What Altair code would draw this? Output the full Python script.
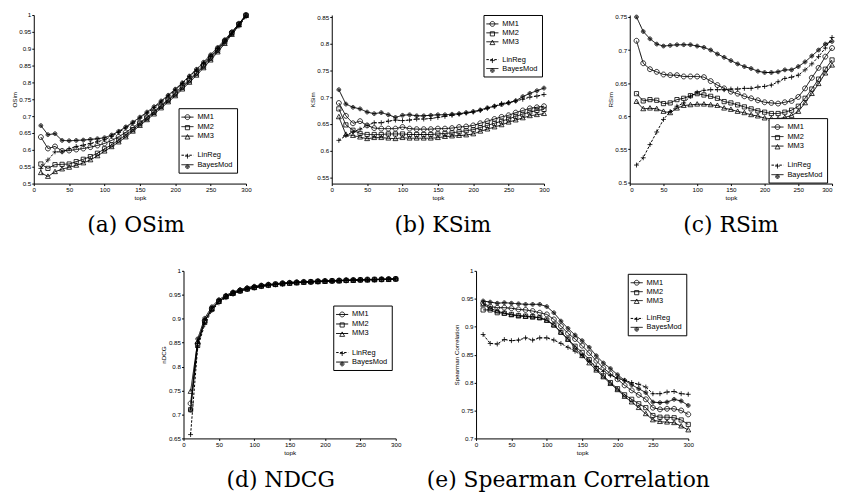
import altair as alt
import pandas as pd

TOPK = [10, 20, 30, 40, 50, 60, 70, 80, 90, 100, 110, 120, 130, 140, 150,
        160, 170, 180, 190, 200, 210, 220, 230, 240, 250, 260, 270, 280, 290, 300]
SERIES = ["MM1", "MM2", "MM3", "LinReg", "BayesMod"]
XTICKS = [0, 50, 100, 150, 200, 250, 300]

# (a) OSim
osim_mm1 = [0.638, 0.604, 0.610, 0.597, 0.598, 0.601, 0.604, 0.608, 0.613, 0.619, 0.628, 0.639, 0.652, 0.666, 0.681,
            0.697, 0.714, 0.732, 0.750, 0.769, 0.789, 0.809, 0.830, 0.852, 0.875, 0.899, 0.923, 0.948, 0.974, 1.000]
osim_mm2 = [0.558, 0.545, 0.556, 0.557, 0.558, 0.565, 0.572, 0.580, 0.590, 0.603, 0.615, 0.629, 0.644, 0.660, 0.677,
            0.694, 0.711, 0.729, 0.747, 0.765, 0.785, 0.805, 0.826, 0.848, 0.871, 0.895, 0.920, 0.946, 0.972, 0.999]
osim_mm3 = [0.532, 0.521, 0.535, 0.543, 0.548, 0.554, 0.561, 0.570, 0.582, 0.596, 0.609, 0.623, 0.638, 0.655, 0.672,
            0.689, 0.706, 0.724, 0.742, 0.760, 0.780, 0.800, 0.821, 0.843, 0.866, 0.890, 0.915, 0.942, 0.970, 0.998]
osim_lin = [0.545, 0.570, 0.594, 0.594, 0.603, 0.610, 0.614, 0.619, 0.624, 0.630, 0.640, 0.652, 0.665, 0.679, 0.694,
            0.709, 0.725, 0.742, 0.760, 0.778, 0.797, 0.817, 0.837, 0.857, 0.878, 0.899, 0.921, 0.943, 0.967, 0.995]
osim_bayes = [0.672, 0.645, 0.648, 0.628, 0.627, 0.628, 0.629, 0.631, 0.633, 0.636, 0.644, 0.655, 0.668, 0.682, 0.697,
              0.712, 0.728, 0.745, 0.762, 0.780, 0.799, 0.819, 0.839, 0.860, 0.882, 0.904, 0.927, 0.950, 0.974, 1.000]

# (b) KSim
ksim_mm1 = [0.689, 0.665, 0.651, 0.655, 0.647, 0.642, 0.641, 0.641, 0.641, 0.644, 0.641, 0.640, 0.640, 0.640, 0.641,
            0.641, 0.642, 0.644, 0.645, 0.647, 0.651, 0.655, 0.659, 0.663, 0.666, 0.671, 0.675, 0.679, 0.681, 0.683]
ksim_mm2 = [0.678, 0.648, 0.638, 0.632, 0.630, 0.630, 0.630, 0.631, 0.631, 0.631, 0.630, 0.630, 0.630, 0.630, 0.631,
            0.632, 0.633, 0.635, 0.637, 0.639, 0.643, 0.647, 0.651, 0.655, 0.659, 0.664, 0.668, 0.672, 0.675, 0.677]
ksim_mm3 = [0.663, 0.630, 0.628, 0.625, 0.622, 0.624, 0.624, 0.623, 0.622, 0.624, 0.623, 0.623, 0.623, 0.623, 0.624,
            0.626, 0.627, 0.628, 0.629, 0.631, 0.636, 0.640, 0.644, 0.648, 0.653, 0.657, 0.661, 0.665, 0.667, 0.669]
ksim_lin = [0.619, 0.628, 0.635, 0.640, 0.647, 0.652, 0.652, 0.655, 0.657, 0.656, 0.657, 0.659, 0.659, 0.660, 0.662,
            0.664, 0.666, 0.668, 0.670, 0.672, 0.675, 0.679, 0.683, 0.688, 0.690, 0.693, 0.696, 0.700, 0.702, 0.705]
ksim_bayes = [0.714, 0.687, 0.681, 0.678, 0.672, 0.669, 0.671, 0.667, 0.662, 0.666, 0.667, 0.665, 0.665, 0.666, 0.667,
              0.667, 0.668, 0.669, 0.671, 0.673, 0.676, 0.680, 0.683, 0.686, 0.689, 0.693, 0.701, 0.707, 0.712, 0.717]

# (c) RSim
rsim_mm1 = [0.714, 0.680, 0.671, 0.667, 0.663, 0.662, 0.662, 0.660, 0.660, 0.660, 0.659, 0.653, 0.647, 0.642, 0.637,
            0.634, 0.630, 0.627, 0.624, 0.621, 0.620, 0.619, 0.621, 0.623, 0.629, 0.642, 0.658, 0.673, 0.690, 0.703]
rsim_mm2 = [0.634, 0.623, 0.625, 0.624, 0.619, 0.620, 0.625, 0.627, 0.631, 0.634, 0.632, 0.630, 0.627, 0.622, 0.620,
            0.617, 0.614, 0.611, 0.608, 0.606, 0.604, 0.604, 0.606, 0.609, 0.615, 0.627, 0.641, 0.656, 0.671, 0.685]
rsim_mm3 = [0.622, 0.611, 0.612, 0.611, 0.607, 0.605, 0.612, 0.616, 0.617, 0.618, 0.618, 0.617, 0.616, 0.612, 0.610,
            0.607, 0.605, 0.602, 0.600, 0.597, 0.596, 0.596, 0.598, 0.601, 0.607, 0.620, 0.634, 0.649, 0.665, 0.677]
rsim_lin = [0.526, 0.537, 0.557, 0.576, 0.595, 0.607, 0.615, 0.620, 0.630, 0.636, 0.639, 0.640, 0.640, 0.640, 0.641,
            0.641, 0.642, 0.642, 0.644, 0.645, 0.647, 0.652, 0.657, 0.659, 0.662, 0.670, 0.679, 0.690, 0.703, 0.719]
rsim_bayes = [0.750, 0.728, 0.717, 0.709, 0.706, 0.707, 0.708, 0.708, 0.708, 0.706, 0.704, 0.700, 0.694, 0.689, 0.684,
              0.679, 0.675, 0.672, 0.668, 0.666, 0.666, 0.667, 0.670, 0.670, 0.675, 0.682, 0.691, 0.700, 0.709, 0.713]

# (d) NDCG
ndcg_mm1 = [0.723, 0.848, 0.896, 0.921, 0.937, 0.947, 0.954, 0.959, 0.963, 0.966, 0.969, 0.971, 0.972, 0.974, 0.975,
            0.976, 0.977, 0.977, 0.978, 0.979, 0.979, 0.980, 0.980, 0.981, 0.981, 0.982, 0.982, 0.982, 0.983, 0.983]
ndcg_mm2 = [0.710, 0.845, 0.894, 0.920, 0.936, 0.946, 0.953, 0.958, 0.962, 0.965, 0.968, 0.970, 0.972, 0.973, 0.974,
            0.975, 0.976, 0.977, 0.978, 0.978, 0.979, 0.979, 0.980, 0.980, 0.981, 0.981, 0.982, 0.982, 0.982, 0.983]
ndcg_mm3 = [0.748, 0.852, 0.895, 0.920, 0.936, 0.946, 0.953, 0.958, 0.962, 0.965, 0.968, 0.970, 0.971, 0.973, 0.974,
            0.975, 0.976, 0.977, 0.977, 0.978, 0.979, 0.979, 0.980, 0.980, 0.981, 0.981, 0.981, 0.982, 0.982, 0.983]
ndcg_lin = [0.658, 0.840, 0.888, 0.917, 0.933, 0.944, 0.951, 0.957, 0.961, 0.964, 0.967, 0.969, 0.971, 0.972, 0.974,
            0.975, 0.976, 0.976, 0.977, 0.978, 0.978, 0.979, 0.980, 0.980, 0.981, 0.981, 0.981, 0.982, 0.982, 0.983]
ndcg_bayes = [0.709, 0.858, 0.901, 0.925, 0.940, 0.949, 0.956, 0.961, 0.965, 0.968, 0.970, 0.972, 0.973, 0.975, 0.976,
              0.977, 0.977, 0.978, 0.979, 0.979, 0.980, 0.980, 0.981, 0.981, 0.982, 0.982, 0.982, 0.983, 0.983, 0.984]

# (e) Spearman Correlation
sp_mm1 = [0.942, 0.936, 0.934, 0.934, 0.933, 0.931, 0.930, 0.928, 0.925, 0.922, 0.913, 0.901, 0.888, 0.878, 0.866,
          0.853, 0.839, 0.826, 0.816, 0.806, 0.795, 0.786, 0.778, 0.770, 0.755, 0.752, 0.753, 0.753, 0.750, 0.743]
sp_mm2 = [0.930, 0.930, 0.925, 0.924, 0.922, 0.920, 0.919, 0.918, 0.916, 0.912, 0.903, 0.890, 0.878, 0.865, 0.854,
          0.841, 0.825, 0.812, 0.800, 0.789, 0.778, 0.770, 0.762, 0.755, 0.741, 0.738, 0.738, 0.737, 0.733, 0.725]
sp_mm3 = [0.940, 0.933, 0.928, 0.924, 0.921, 0.919, 0.918, 0.917, 0.916, 0.911, 0.903, 0.890, 0.877, 0.862, 0.848,
          0.835, 0.822, 0.810, 0.798, 0.787, 0.775, 0.765, 0.755, 0.744, 0.733, 0.730, 0.729, 0.728, 0.722, 0.715]
sp_lin = [0.886, 0.870, 0.869, 0.877, 0.875, 0.876, 0.880, 0.876, 0.880, 0.880, 0.876, 0.870, 0.863, 0.856, 0.848,
          0.839, 0.829, 0.820, 0.813, 0.808, 0.804, 0.800, 0.797, 0.792, 0.780, 0.780, 0.783, 0.784, 0.780, 0.779]
sp_bayes = [0.946, 0.944, 0.942, 0.943, 0.942, 0.941, 0.940, 0.940, 0.940, 0.936, 0.925, 0.910, 0.897, 0.885, 0.875,
            0.863, 0.848, 0.835, 0.825, 0.814, 0.804, 0.796, 0.789, 0.782, 0.765, 0.764, 0.765, 0.770, 0.767, 0.759]

# legend entries (a blank entry gives the gap between MM3 and LinReg)
SHAPE_DOMAIN = ["MM1", "MM2", "MM3", " ", "LinReg", "BayesMod"]
DASH_DOMAIN = ["MM1", "MM2", "MM3", "  ", "LinReg", "BayesMod"]
SHAPE_RANGE = [
    "M-0.55,0A0.55,0.55 0 1,0 0.55,0A0.55,0.55 0 1,0 -0.55,0Z",   # circle
    "M-0.47,-0.47H0.47V0.47H-0.47Z",                               # square
    "M0,-0.58L0.55,0.42H-0.55Z",                                   # triangle
    "M0,0",                                                        # blank
    "M-0.55,0H0.55M0,-0.55V0.55",                                  # plus
    "M-0.42,0A0.42,0.42 0 1,0 0.42,0A0.42,0.42 0 1,0 -0.42,0Z"
    "M-0.22,0A0.22,0.22 0 1,0 0.22,0A0.22,0.22 0 1,0 -0.22,0Z"
    "M-0.06,0A0.06,0.06 0 1,0 0.06,0A0.06,0.06 0 1,0 -0.06,0Z",   # solid dot
]
DASH_RANGE = [[1, 0], [1, 0], [1, 0], [0, 100], [2.5, 1.5], [1, 0]]
LEGEND_LINE = "M-1.35,0H1.35"
SYM = 81

SANS = "Liberation Sans"


def make_df(vals):
    rows = []
    for name, arr in zip(SERIES, vals):
        for k, v in zip(TOPK, arr):
            rows.append({"topk": k, "value": v, "series": name})
    return pd.DataFrame(rows)


def panel(vals, ytitle, ydomain, yticks, caption, lx, ly, w, h, cap_dx, flush=False, row_pad=0.6):
    df = make_df(vals)
    x = alt.X("topk:Q", scale=alt.Scale(domain=[0, 300], nice=False, zero=False),
              axis=alt.Axis(values=XTICKS, format="d", title="topk", labelFlush=flush))
    y = alt.Y("value:Q", scale=alt.Scale(domain=ydomain, nice=False, zero=False),
              axis=alt.Axis(values=yticks, format="~g", title=ytitle))
    common = dict(orient="none", legendX=lx, legendY=ly, title=None, symbolSize=SYM,
                  padding=4, labelOffset=5, rowPadding=row_pad, labelFontSize=7.5, labelFont=SANS)
    line_leg = alt.Legend(symbolType=LEGEND_LINE, symbolStrokeWidth=1, symbolStrokeColor="black",
                          strokeColor="black", fillColor="white", labelColor="black", zindex=1, **common)
    pt_leg = alt.Legend(symbolStrokeWidth=0.8, symbolStrokeColor="black", labelOpacity=0, zindex=2, **common)
    line = alt.Chart(df).mark_line(color="black", strokeWidth=1).encode(
        x=x, y=y,
        strokeDash=alt.StrokeDash("series:N",
                                  scale=alt.Scale(domain=DASH_DOMAIN, range=DASH_RANGE),
                                  legend=line_leg),
    )
    pts = alt.Chart(df).mark_point(filled=False, size=SYM, color="black", strokeWidth=0.8, opacity=1).encode(
        x=x, y=y,
        shape=alt.Shape("series:N", scale=alt.Scale(domain=SHAPE_DOMAIN, range=SHAPE_RANGE), legend=pt_leg),
    )
    return alt.layer(line, pts).properties(
        width=w, height=h,
        title=alt.TitleParams(caption, orient="bottom", font="DejaVu Serif", fontSize=22,
                              fontWeight="normal", color="black", offset=15, dx=cap_dx),
    )


def ticks(lo, hi):
    out = []
    v = lo
    while v <= hi + 1e-9:
        out.append(round(v, 2))
        v += 0.05
    return out


pa = panel([osim_mm1, osim_mm2, osim_mm3, osim_lin, osim_bayes], "OSim", [0.5, 1.0],
           ticks(0.5, 1.0), "(a) OSim", 146, 94, 214, 170, -4)
pb = panel([ksim_mm1, ksim_mm2, ksim_mm3, ksim_lin, ksim_bayes], "KSim", [0.538, 0.854],
           ticks(0.55, 0.85), "(b) KSim", 153, 0, 214, 170, 5, row_pad=-1.4)
pc = panel([rsim_mm1, rsim_mm2, rsim_mm3, rsim_lin, rsim_bayes], "RSim", [0.498, 0.753],
           ticks(0.5, 0.75), "(c) RSim", 140, 104, 204, 170, 0, flush=True)
pd_ = panel([ndcg_mm1, ndcg_mm2, ndcg_mm3, ndcg_lin, ndcg_bayes], "nDCG", [0.65, 1.0],
            ticks(0.65, 1.0), "(d) NDCG", 151, 35, 214, 169, -9)
pe = panel([sp_mm1, sp_mm2, sp_mm3, sp_lin, sp_bayes], "Spearman Correlation", [0.7, 1.0],
           ticks(0.7, 1.0), "(e) Spearman Correlation", 153, 3, 214, 169, -14, row_pad=-1.4)

# empty spacer that indents the second row
spacer = alt.Chart(alt.Data(values=[])).mark_point().properties(width=103, height=20)

IND = dict(shape="independent", strokeDash="independent")

row1 = alt.hconcat(pa, pb, pc, spacing=56.5).resolve_scale(**IND).resolve_legend(**IND)
row2 = alt.hconcat(spacer, pd_, pe, spacing=24).resolve_scale(**IND).resolve_legend(**IND)

chart = alt.vconcat(row1, row2, spacing=30).resolve_scale(**IND).resolve_legend(**IND)

chart = chart.properties(
    padding={"left": 2, "top": 0, "right": 0, "bottom": 0}
).configure_view(stroke="transparent").configure_axis(
    grid=False, domainColor="black", domainWidth=1, tickColor="black", tickSize=2, tickWidth=1,
    labelFont=SANS, labelFontSize=6.3, labelColor="black", labelPadding=1,
    titleFont=SANS, titleFontSize=6.3, titleFontWeight="normal", titleColor="black", titlePadding=1.5,
).configure_legend(strokeWidth=1)

chart.save("out.html", embed_options={"renderer": "svg", "actions": False})
